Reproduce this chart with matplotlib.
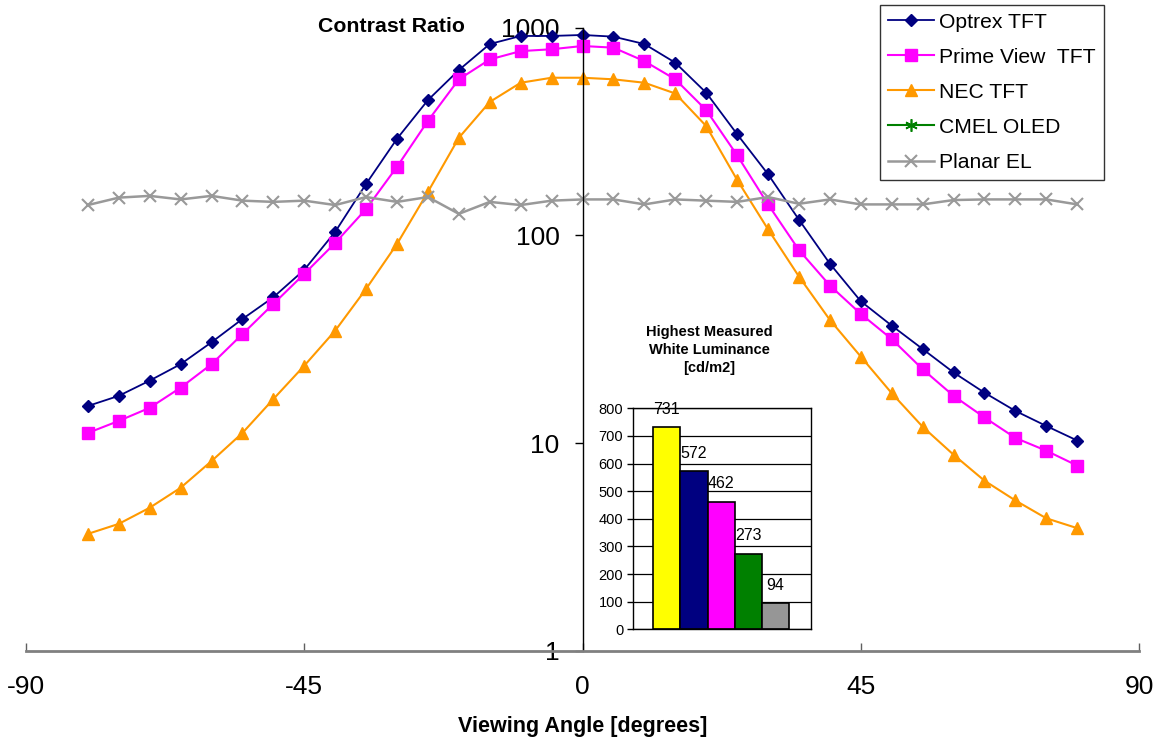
"""
Contraste vs. angulo de vision, con recuadro de luminancia maxima.
"""
import matplotlib
matplotlib.use('Agg')
import matplotlib.pyplot as plt
from matplotlib.ticker import FixedLocator, FixedFormatter, NullLocator

plt.rcParams['font.family'] = ['Liberation Sans', 'DejaVu Sans']

# Angulos medidos (grados)
angles = [-80, -75, -70, -65, -60, -55, -50, -45, -40, -35, -30, -25, -20, -15, -10, -5,
          0, 5, 10, 15, 20, 25, 30, 35, 40, 45, 50, 55, 60, 65, 70, 75, 80]

optrex = [15.1, 16.9, 20.0, 24.0, 30.6, 39.6, 50.4, 68.3, 104, 177, 292, 448, 625, 834, 912, 912,
          922, 905, 834, 678, 486, 307, 197, 119, 73.1, 48.2, 36.8, 28.4, 21.9, 17.5, 14.3, 12.1, 10.3]
prime_view = [11.2, 12.8, 14.8, 18.5, 24.0, 33.5, 46.8, 65.3, 92, 134, 214, 356, 564, 703, 771, 787,
              816, 801, 690, 564, 401, 243, 141, 85, 57.4, 41.9, 31.7, 22.7, 16.9, 13.3, 10.6, 9.2, 7.8]
nec = [3.66, 4.09, 4.89, 6.1, 8.2, 11.2, 16.3, 23.6, 34.8, 55.3, 91, 162, 295, 439, 543, 574,
       574, 564, 543, 482, 336, 185, 107, 63.4, 39.2, 26.1, 17.4, 12.0, 8.8, 6.6, 5.3, 4.35, 3.9]
cmel_angles = []
cmel = []
planar = [140, 152, 155, 149, 155, 147, 145, 147, 140, 153, 145, 153, 127, 145, 140, 147,
          149, 149, 141, 149, 147, 145, 153, 142, 149, 141, 141, 141, 148, 149, 149, 149, 141]

x_ticks = [-90, -45, 0, 45, 90]
y_ticks = [1, 10, 100, 1000]
y_tick_labels = ['1', '10', '100', '1000']

# Recuadro: luminancia blanca maxima
lum_values = [731, 572, 462, 273, 94]
lum_colors = ['#FFFF00', '#000080', '#FF00FF', '#008000', '#969696']
lum_ticks = [0, 100, 200, 300, 400, 500, 600, 700, 800]

fig = plt.figure(figsize=(11.66, 7.41), dpi=100)
ax = fig.add_axes([0.0223, 0.1215, 0.9546, 0.8412])

ax.plot(angles, optrex, '-', color='#000080', lw=1.3, marker='D', ms=6.5, label='Optrex TFT')
ax.plot(angles, prime_view, '-', color='#FF00FF', lw=1.5, marker='s', ms=8, label='Prime View  TFT')
ax.plot(angles, nec, '-', color='#FF9900', lw=1.5, marker='^', ms=8.5, label='NEC TFT')
ax.plot(cmel_angles, cmel, '-', color='#008000', lw=1.5, marker=(6, 2, 0), ms=9, mew=1.2,
        label='CMEL OLED')
ax.plot(angles, planar, '-', color='#999999', lw=1.8, marker='x', ms=8, mew=1.5, label='Planar EL')

ax.set_yscale('log')
ax.set_xlim(-90, 90)
ax.set_ylim(1, 1000)

# Ejes al estilo Excel: eje Y en x=0, eje X abajo en gris
ax.spines['top'].set_visible(False)
ax.spines['right'].set_visible(False)
ax.spines['left'].set_position(('data', 0))
ax.spines['left'].set_linewidth(1.0)
ax.spines['bottom'].set_color('#808080')
ax.spines['bottom'].set_linewidth(2.0)

ax.yaxis.set_major_locator(FixedLocator(y_ticks))
ax.yaxis.set_major_formatter(FixedFormatter(y_tick_labels))
ax.yaxis.set_minor_locator(NullLocator())
ax.tick_params(axis='y', direction='out', length=6, width=1, pad=10.5, labelsize=19)

ax.set_xticks(x_ticks)
ax.set_xticklabels([str(t) for t in x_ticks])
ax.tick_params(axis='x', direction='in', length=6, width=1, color='#606060', pad=17, labelsize=19)

ax.set_xlabel('Viewing Angle [degrees]', fontsize=15.5, fontweight='bold')
ax.xaxis.set_label_coords(0.5, -0.104)

fig.text(391 / 1166, 1 - 26 / 741, 'Contrast Ratio', fontsize=15.3, fontweight='bold',
         ha='center', va='center')

leg = ax.legend(loc='upper right', bbox_to_anchor=(1104 / 1166, 1 - 4.7 / 741),
                bbox_transform=fig.transFigure, fontsize=15.2, frameon=True, fancybox=False,
                borderaxespad=0, borderpad=0.38, handlelength=2.2, handletextpad=0.25,
                labelspacing=0.76)
leg.get_frame().set_edgecolor('black')
leg.get_frame().set_linewidth(1.0)

# Grafico de barras insertado
ax_in = fig.add_axes([0.5429, 0.1507, 0.1524, 0.2983])
pos = list(range(len(lum_values)))
ax_in.bar(pos, lum_values, width=1.0, color=lum_colors, edgecolor='black', linewidth=1.2)
for i, v in zip(pos, lum_values):
    ax_in.text(i, v + 65, str(v), ha='center', va='center', fontsize=11.5, clip_on=False)
ax_in.set_xlim(-1.25, 5.3)
ax_in.set_ylim(0, 800)
ax_in.set_yticks(lum_ticks)
ax_in.set_xticks([])
ax_in.tick_params(axis='y', direction='out', length=4, width=1, pad=3, labelsize=10.5)
ax_in.set_axisbelow(True)
ax_in.yaxis.grid(True, color='black', lw=0.9)
for sp in ax_in.spines.values():
    sp.set_color('black')
    sp.set_linewidth(1.0)
ax_in.text(0.43, 1.15, 'Highest Measured\nWhite Luminance\n[cd/m2]', transform=ax_in.transAxes,
           ha='center', va='bottom', fontsize=10.5, fontweight='bold', linespacing=1.35)

fig.savefig('out.png', dpi=100)
